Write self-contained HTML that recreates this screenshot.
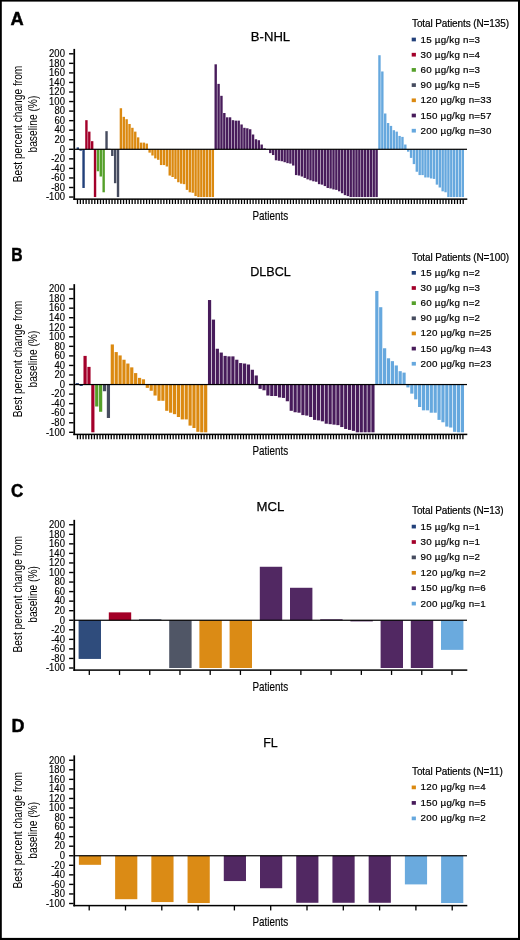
<!DOCTYPE html>
<html><head><meta charset="utf-8"><style>
html,body{margin:0;padding:0;background:#fff;overflow:hidden;width:520px;height:940px;}
svg{display:block;will-change:transform;}
text{font-family:"Liberation Sans", sans-serif;}
</style></head><body>
<svg width="520" height="940" viewBox="0 0 520 940">
<rect x="0" y="0" width="520" height="940" fill="#fff"/>
<text transform="translate(10.6 25.2) scale(1.0 1)" font-size="18.3" font-weight="bold" fill="#000" stroke="#000" stroke-width="0.45">A</text>
<text x="270.5" y="40.5" font-size="13.6" text-anchor="middle" fill="#000" stroke="#000" stroke-width="0.25" textLength="39.3" lengthAdjust="spacingAndGlyphs">B-NHL</text>
<text transform="translate(21.9 124) rotate(-90)" font-size="13.1" text-anchor="middle" fill="#000" textLength="116.6" lengthAdjust="spacingAndGlyphs">Best percent change from</text>
<text transform="translate(37.3 124.1) rotate(-90)" font-size="13.1" text-anchor="middle" fill="#000" textLength="56.8" lengthAdjust="spacingAndGlyphs">baseline (%)</text>
<text x="270.3" y="219.7" font-size="12.9" text-anchor="middle" fill="#000" stroke="#000" stroke-width="0.15" textLength="35.6" lengthAdjust="spacingAndGlyphs">Patients</text>
<rect x="76.6" y="147.39" width="2.4" height="1.91" fill="#22407a"/>
<rect x="79.47" y="149.3" width="2.4" height="1.43" fill="#22407a"/>
<rect x="82.35" y="149.3" width="2.4" height="38.68" fill="#22407a"/>
<rect x="85.22" y="120.17" width="2.4" height="29.13" fill="#a3002a"/>
<rect x="88.09" y="131.63" width="2.4" height="17.67" fill="#a3002a"/>
<rect x="90.97" y="141.18" width="2.4" height="8.12" fill="#a3002a"/>
<rect x="93.84" y="149.3" width="2.4" height="47.75" fill="#a3002a"/>
<rect x="96.71" y="149.3" width="2.4" height="21.96" fill="#55a02a"/>
<rect x="99.58" y="149.3" width="2.4" height="27.22" fill="#55a02a"/>
<rect x="102.46" y="149.3" width="2.4" height="42.98" fill="#55a02a"/>
<rect x="105.33" y="131.16" width="2.4" height="18.14" fill="#464c5f"/>
<rect x="108.2" y="148.82" width="2.4" height="0.48" fill="#464c5f"/>
<rect x="111.08" y="149.3" width="2.4" height="6.68" fill="#464c5f"/>
<rect x="113.95" y="149.3" width="2.4" height="33.9" fill="#464c5f"/>
<rect x="116.82" y="149.3" width="2.4" height="47.75" fill="#464c5f"/>
<rect x="119.69" y="108.24" width="2.4" height="41.06" fill="#db8910"/>
<rect x="122.57" y="116.83" width="2.4" height="32.47" fill="#db8910"/>
<rect x="125.44" y="119.22" width="2.4" height="30.08" fill="#db8910"/>
<rect x="128.31" y="123.99" width="2.4" height="25.31" fill="#db8910"/>
<rect x="131.19" y="127.81" width="2.4" height="21.49" fill="#db8910"/>
<rect x="134.06" y="131.63" width="2.4" height="17.67" fill="#db8910"/>
<rect x="136.93" y="137.36" width="2.4" height="11.94" fill="#db8910"/>
<rect x="139.81" y="142.62" width="2.4" height="6.68" fill="#db8910"/>
<rect x="142.68" y="142.62" width="2.4" height="6.68" fill="#db8910"/>
<rect x="145.55" y="143.57" width="2.4" height="5.73" fill="#db8910"/>
<rect x="148.43" y="149.3" width="2.4" height="3.34" fill="#db8910"/>
<rect x="151.3" y="149.3" width="2.4" height="6.21" fill="#db8910"/>
<rect x="154.17" y="149.3" width="2.4" height="9.07" fill="#db8910"/>
<rect x="157.04" y="149.3" width="2.4" height="10.5" fill="#db8910"/>
<rect x="159.92" y="149.3" width="2.4" height="15.76" fill="#db8910"/>
<rect x="162.79" y="149.3" width="2.4" height="15.76" fill="#db8910"/>
<rect x="165.66" y="149.3" width="2.4" height="17.19" fill="#db8910"/>
<rect x="168.54" y="149.3" width="2.4" height="26.26" fill="#db8910"/>
<rect x="171.41" y="149.3" width="2.4" height="27.7" fill="#db8910"/>
<rect x="174.28" y="149.3" width="2.4" height="29.61" fill="#db8910"/>
<rect x="177.16" y="149.3" width="2.4" height="32.95" fill="#db8910"/>
<rect x="180.03" y="149.3" width="2.4" height="34.38" fill="#db8910"/>
<rect x="182.9" y="149.3" width="2.4" height="34.86" fill="#db8910"/>
<rect x="185.77" y="149.3" width="2.4" height="40.59" fill="#db8910"/>
<rect x="188.65" y="149.3" width="2.4" height="42.98" fill="#db8910"/>
<rect x="191.52" y="149.3" width="2.4" height="43.45" fill="#db8910"/>
<rect x="194.39" y="149.3" width="2.4" height="46.79" fill="#db8910"/>
<rect x="197.27" y="149.3" width="2.4" height="47.75" fill="#db8910"/>
<rect x="200.14" y="149.3" width="2.4" height="47.75" fill="#db8910"/>
<rect x="203.01" y="149.3" width="2.4" height="47.75" fill="#db8910"/>
<rect x="205.88" y="149.3" width="2.4" height="47.75" fill="#db8910"/>
<rect x="208.76" y="149.3" width="2.4" height="47.75" fill="#db8910"/>
<rect x="211.63" y="149.3" width="2.4" height="47.75" fill="#db8910"/>
<rect x="214.5" y="64.31" width="2.4" height="84.99" fill="#481c5b"/>
<rect x="217.38" y="83.88" width="2.4" height="65.42" fill="#481c5b"/>
<rect x="220.25" y="95.82" width="2.4" height="53.48" fill="#481c5b"/>
<rect x="223.12" y="113.01" width="2.4" height="36.29" fill="#481c5b"/>
<rect x="226" y="117.31" width="2.4" height="31.99" fill="#481c5b"/>
<rect x="228.87" y="117.31" width="2.4" height="31.99" fill="#481c5b"/>
<rect x="231.74" y="120.17" width="2.4" height="29.13" fill="#481c5b"/>
<rect x="234.62" y="120.65" width="2.4" height="28.65" fill="#481c5b"/>
<rect x="237.49" y="120.65" width="2.4" height="28.65" fill="#481c5b"/>
<rect x="240.36" y="124.47" width="2.4" height="24.83" fill="#481c5b"/>
<rect x="243.23" y="127.81" width="2.4" height="21.49" fill="#481c5b"/>
<rect x="246.11" y="128.29" width="2.4" height="21.01" fill="#481c5b"/>
<rect x="248.98" y="129.25" width="2.4" height="20.05" fill="#481c5b"/>
<rect x="251.85" y="134.5" width="2.4" height="14.8" fill="#481c5b"/>
<rect x="254.73" y="139.27" width="2.4" height="10.03" fill="#481c5b"/>
<rect x="257.6" y="140.23" width="2.4" height="9.07" fill="#481c5b"/>
<rect x="260.47" y="144.53" width="2.4" height="4.77" fill="#481c5b"/>
<rect x="263.35" y="148.34" width="2.4" height="0.95" fill="#481c5b"/>
<rect x="266.22" y="149.06" width="2.4" height="0.24" fill="#481c5b"/>
<rect x="269.09" y="149.3" width="2.4" height="3.82" fill="#481c5b"/>
<rect x="271.96" y="149.3" width="2.4" height="5.73" fill="#481c5b"/>
<rect x="274.84" y="149.3" width="2.4" height="10.98" fill="#481c5b"/>
<rect x="277.71" y="149.3" width="2.4" height="11.46" fill="#481c5b"/>
<rect x="280.58" y="149.3" width="2.4" height="11.94" fill="#481c5b"/>
<rect x="283.46" y="149.3" width="2.4" height="12.89" fill="#481c5b"/>
<rect x="286.33" y="149.3" width="2.4" height="13.85" fill="#481c5b"/>
<rect x="289.2" y="149.3" width="2.4" height="14.32" fill="#481c5b"/>
<rect x="292.08" y="149.3" width="2.4" height="16.23" fill="#481c5b"/>
<rect x="294.95" y="149.3" width="2.4" height="25.79" fill="#481c5b"/>
<rect x="297.82" y="149.3" width="2.4" height="26.26" fill="#481c5b"/>
<rect x="300.69" y="149.3" width="2.4" height="27.22" fill="#481c5b"/>
<rect x="303.57" y="149.3" width="2.4" height="28.65" fill="#481c5b"/>
<rect x="306.44" y="149.3" width="2.4" height="30.08" fill="#481c5b"/>
<rect x="309.31" y="149.3" width="2.4" height="31.04" fill="#481c5b"/>
<rect x="312.19" y="149.3" width="2.4" height="31.99" fill="#481c5b"/>
<rect x="315.06" y="149.3" width="2.4" height="32.47" fill="#481c5b"/>
<rect x="317.93" y="149.3" width="2.4" height="34.86" fill="#481c5b"/>
<rect x="320.81" y="149.3" width="2.4" height="35.34" fill="#481c5b"/>
<rect x="323.68" y="149.3" width="2.4" height="36.77" fill="#481c5b"/>
<rect x="326.55" y="149.3" width="2.4" height="38.68" fill="#481c5b"/>
<rect x="329.42" y="149.3" width="2.4" height="39.16" fill="#481c5b"/>
<rect x="332.3" y="149.3" width="2.4" height="40.11" fill="#481c5b"/>
<rect x="335.17" y="149.3" width="2.4" height="40.59" fill="#481c5b"/>
<rect x="338.04" y="149.3" width="2.4" height="42.02" fill="#481c5b"/>
<rect x="340.92" y="149.3" width="2.4" height="43.93" fill="#481c5b"/>
<rect x="343.79" y="149.3" width="2.4" height="45.84" fill="#481c5b"/>
<rect x="346.66" y="149.3" width="2.4" height="46.79" fill="#481c5b"/>
<rect x="349.53" y="149.3" width="2.4" height="47.75" fill="#481c5b"/>
<rect x="352.41" y="149.3" width="2.4" height="47.75" fill="#481c5b"/>
<rect x="355.28" y="149.3" width="2.4" height="47.75" fill="#481c5b"/>
<rect x="358.15" y="149.3" width="2.4" height="47.75" fill="#481c5b"/>
<rect x="361.03" y="149.3" width="2.4" height="47.75" fill="#481c5b"/>
<rect x="363.9" y="149.3" width="2.4" height="47.75" fill="#481c5b"/>
<rect x="366.77" y="149.3" width="2.4" height="47.75" fill="#481c5b"/>
<rect x="369.65" y="149.3" width="2.4" height="47.75" fill="#481c5b"/>
<rect x="372.52" y="149.3" width="2.4" height="47.75" fill="#481c5b"/>
<rect x="375.39" y="149.3" width="2.4" height="47.75" fill="#481c5b"/>
<rect x="378.26" y="55.23" width="2.4" height="94.07" fill="#66a8de"/>
<rect x="381.14" y="71.47" width="2.4" height="77.83" fill="#66a8de"/>
<rect x="384.01" y="113.49" width="2.4" height="35.81" fill="#66a8de"/>
<rect x="386.88" y="123.04" width="2.4" height="26.26" fill="#66a8de"/>
<rect x="389.76" y="125.9" width="2.4" height="23.4" fill="#66a8de"/>
<rect x="392.63" y="130.2" width="2.4" height="19.1" fill="#66a8de"/>
<rect x="395.5" y="131.63" width="2.4" height="17.67" fill="#66a8de"/>
<rect x="398.38" y="135.93" width="2.4" height="13.37" fill="#66a8de"/>
<rect x="401.25" y="136.89" width="2.4" height="12.41" fill="#66a8de"/>
<rect x="404.12" y="144.53" width="2.4" height="4.77" fill="#66a8de"/>
<rect x="407" y="149.3" width="2.4" height="2.39" fill="#66a8de"/>
<rect x="409.87" y="149.3" width="2.4" height="8.59" fill="#66a8de"/>
<rect x="412.74" y="149.3" width="2.4" height="14.8" fill="#66a8de"/>
<rect x="415.61" y="149.3" width="2.4" height="22.44" fill="#66a8de"/>
<rect x="418.49" y="149.3" width="2.4" height="25.79" fill="#66a8de"/>
<rect x="421.36" y="149.3" width="2.4" height="25.79" fill="#66a8de"/>
<rect x="424.23" y="149.3" width="2.4" height="28.17" fill="#66a8de"/>
<rect x="427.11" y="149.3" width="2.4" height="28.17" fill="#66a8de"/>
<rect x="429.98" y="149.3" width="2.4" height="29.13" fill="#66a8de"/>
<rect x="432.85" y="149.3" width="2.4" height="29.61" fill="#66a8de"/>
<rect x="435.73" y="149.3" width="2.4" height="35.34" fill="#66a8de"/>
<rect x="438.6" y="149.3" width="2.4" height="38.2" fill="#66a8de"/>
<rect x="441.47" y="149.3" width="2.4" height="42.02" fill="#66a8de"/>
<rect x="444.34" y="149.3" width="2.4" height="42.98" fill="#66a8de"/>
<rect x="447.22" y="149.3" width="2.4" height="47.75" fill="#66a8de"/>
<rect x="450.09" y="149.3" width="2.4" height="47.75" fill="#66a8de"/>
<rect x="452.96" y="149.3" width="2.4" height="47.75" fill="#66a8de"/>
<rect x="455.84" y="149.3" width="2.4" height="47.75" fill="#66a8de"/>
<rect x="458.71" y="149.3" width="2.4" height="47.75" fill="#66a8de"/>
<rect x="461.58" y="149.3" width="2.4" height="47.75" fill="#66a8de"/>
<rect x="74.1" y="148.7" width="392.9" height="1.2" fill="#000"/>
<rect x="73.4" y="48.9" width="1.7" height="151" fill="#000"/>
<rect x="73.35" y="198.4" width="393.95" height="1.5" fill="#000"/>
<rect x="69.1" y="53.1" width="4.5" height="1.4" fill="#000"/>
<text transform="translate(64.9 57.05) scale(0.92 1)" font-size="10.3" text-anchor="end" fill="#000" stroke="#000" stroke-width="0.15">200</text>
<rect x="69.1" y="62.65" width="4.5" height="1.4" fill="#000"/>
<text transform="translate(64.9 66.6) scale(0.92 1)" font-size="10.3" text-anchor="end" fill="#000" stroke="#000" stroke-width="0.15">180</text>
<rect x="69.1" y="72.2" width="4.5" height="1.4" fill="#000"/>
<text transform="translate(64.9 76.15) scale(0.92 1)" font-size="10.3" text-anchor="end" fill="#000" stroke="#000" stroke-width="0.15">160</text>
<rect x="69.1" y="81.75" width="4.5" height="1.4" fill="#000"/>
<text transform="translate(64.9 85.7) scale(0.92 1)" font-size="10.3" text-anchor="end" fill="#000" stroke="#000" stroke-width="0.15">140</text>
<rect x="69.1" y="91.3" width="4.5" height="1.4" fill="#000"/>
<text transform="translate(64.9 95.25) scale(0.92 1)" font-size="10.3" text-anchor="end" fill="#000" stroke="#000" stroke-width="0.15">120</text>
<rect x="69.1" y="100.85" width="4.5" height="1.4" fill="#000"/>
<text transform="translate(64.9 104.8) scale(0.92 1)" font-size="10.3" text-anchor="end" fill="#000" stroke="#000" stroke-width="0.15">100</text>
<rect x="69.1" y="110.4" width="4.5" height="1.4" fill="#000"/>
<text transform="translate(64.9 114.35) scale(0.92 1)" font-size="10.3" text-anchor="end" fill="#000" stroke="#000" stroke-width="0.15">80</text>
<rect x="69.1" y="119.95" width="4.5" height="1.4" fill="#000"/>
<text transform="translate(64.9 123.9) scale(0.92 1)" font-size="10.3" text-anchor="end" fill="#000" stroke="#000" stroke-width="0.15">60</text>
<rect x="69.1" y="129.5" width="4.5" height="1.4" fill="#000"/>
<text transform="translate(64.9 133.45) scale(0.92 1)" font-size="10.3" text-anchor="end" fill="#000" stroke="#000" stroke-width="0.15">40</text>
<rect x="69.1" y="139.05" width="4.5" height="1.4" fill="#000"/>
<text transform="translate(64.9 143) scale(0.92 1)" font-size="10.3" text-anchor="end" fill="#000" stroke="#000" stroke-width="0.15">20</text>
<rect x="69.1" y="148.6" width="4.5" height="1.4" fill="#000"/>
<text transform="translate(64.9 152.55) scale(0.92 1)" font-size="10.3" text-anchor="end" fill="#000" stroke="#000" stroke-width="0.15">0</text>
<rect x="69.1" y="158.15" width="4.5" height="1.4" fill="#000"/>
<text transform="translate(64.9 162.1) scale(0.92 1)" font-size="10.3" text-anchor="end" fill="#000" stroke="#000" stroke-width="0.15">-20</text>
<rect x="69.1" y="167.7" width="4.5" height="1.4" fill="#000"/>
<text transform="translate(64.9 171.65) scale(0.92 1)" font-size="10.3" text-anchor="end" fill="#000" stroke="#000" stroke-width="0.15">-40</text>
<rect x="69.1" y="177.25" width="4.5" height="1.4" fill="#000"/>
<text transform="translate(64.9 181.2) scale(0.92 1)" font-size="10.3" text-anchor="end" fill="#000" stroke="#000" stroke-width="0.15">-60</text>
<rect x="69.1" y="186.8" width="4.5" height="1.4" fill="#000"/>
<text transform="translate(64.9 190.75) scale(0.92 1)" font-size="10.3" text-anchor="end" fill="#000" stroke="#000" stroke-width="0.15">-80</text>
<rect x="69.1" y="196.35" width="4.5" height="1.4" fill="#000"/>
<text transform="translate(64.9 200.3) scale(0.92 1)" font-size="10.3" text-anchor="end" fill="#000" stroke="#000" stroke-width="0.15">-100</text>
<rect x="76.85" y="199.4" width="1.3" height="4.6" fill="#000"/>
<rect x="79.73" y="199.4" width="1.3" height="4.6" fill="#000"/>
<rect x="82.61" y="199.4" width="1.3" height="4.6" fill="#000"/>
<rect x="85.49" y="199.4" width="1.3" height="4.6" fill="#000"/>
<rect x="88.36" y="199.4" width="1.3" height="4.6" fill="#000"/>
<rect x="91.24" y="199.4" width="1.3" height="4.6" fill="#000"/>
<rect x="94.12" y="199.4" width="1.3" height="4.6" fill="#000"/>
<rect x="97" y="199.4" width="1.3" height="4.6" fill="#000"/>
<rect x="99.88" y="199.4" width="1.3" height="4.6" fill="#000"/>
<rect x="102.76" y="199.4" width="1.3" height="4.6" fill="#000"/>
<rect x="105.63" y="199.4" width="1.3" height="4.6" fill="#000"/>
<rect x="108.51" y="199.4" width="1.3" height="4.6" fill="#000"/>
<rect x="111.39" y="199.4" width="1.3" height="4.6" fill="#000"/>
<rect x="114.27" y="199.4" width="1.3" height="4.6" fill="#000"/>
<rect x="117.15" y="199.4" width="1.3" height="4.6" fill="#000"/>
<rect x="120.03" y="199.4" width="1.3" height="4.6" fill="#000"/>
<rect x="122.9" y="199.4" width="1.3" height="4.6" fill="#000"/>
<rect x="125.78" y="199.4" width="1.3" height="4.6" fill="#000"/>
<rect x="128.66" y="199.4" width="1.3" height="4.6" fill="#000"/>
<rect x="131.54" y="199.4" width="1.3" height="4.6" fill="#000"/>
<rect x="134.42" y="199.4" width="1.3" height="4.6" fill="#000"/>
<rect x="137.3" y="199.4" width="1.3" height="4.6" fill="#000"/>
<rect x="140.17" y="199.4" width="1.3" height="4.6" fill="#000"/>
<rect x="143.05" y="199.4" width="1.3" height="4.6" fill="#000"/>
<rect x="145.93" y="199.4" width="1.3" height="4.6" fill="#000"/>
<rect x="148.81" y="199.4" width="1.3" height="4.6" fill="#000"/>
<rect x="151.69" y="199.4" width="1.3" height="4.6" fill="#000"/>
<rect x="154.57" y="199.4" width="1.3" height="4.6" fill="#000"/>
<rect x="157.44" y="199.4" width="1.3" height="4.6" fill="#000"/>
<rect x="160.32" y="199.4" width="1.3" height="4.6" fill="#000"/>
<rect x="163.2" y="199.4" width="1.3" height="4.6" fill="#000"/>
<rect x="166.08" y="199.4" width="1.3" height="4.6" fill="#000"/>
<rect x="168.96" y="199.4" width="1.3" height="4.6" fill="#000"/>
<rect x="171.84" y="199.4" width="1.3" height="4.6" fill="#000"/>
<rect x="174.71" y="199.4" width="1.3" height="4.6" fill="#000"/>
<rect x="177.59" y="199.4" width="1.3" height="4.6" fill="#000"/>
<rect x="180.47" y="199.4" width="1.3" height="4.6" fill="#000"/>
<rect x="183.35" y="199.4" width="1.3" height="4.6" fill="#000"/>
<rect x="186.23" y="199.4" width="1.3" height="4.6" fill="#000"/>
<rect x="189.11" y="199.4" width="1.3" height="4.6" fill="#000"/>
<rect x="191.98" y="199.4" width="1.3" height="4.6" fill="#000"/>
<rect x="194.86" y="199.4" width="1.3" height="4.6" fill="#000"/>
<rect x="197.74" y="199.4" width="1.3" height="4.6" fill="#000"/>
<rect x="200.62" y="199.4" width="1.3" height="4.6" fill="#000"/>
<rect x="203.5" y="199.4" width="1.3" height="4.6" fill="#000"/>
<rect x="206.38" y="199.4" width="1.3" height="4.6" fill="#000"/>
<rect x="209.25" y="199.4" width="1.3" height="4.6" fill="#000"/>
<rect x="212.13" y="199.4" width="1.3" height="4.6" fill="#000"/>
<rect x="215.01" y="199.4" width="1.3" height="4.6" fill="#000"/>
<rect x="217.89" y="199.4" width="1.3" height="4.6" fill="#000"/>
<rect x="220.77" y="199.4" width="1.3" height="4.6" fill="#000"/>
<rect x="223.65" y="199.4" width="1.3" height="4.6" fill="#000"/>
<rect x="226.52" y="199.4" width="1.3" height="4.6" fill="#000"/>
<rect x="229.4" y="199.4" width="1.3" height="4.6" fill="#000"/>
<rect x="232.28" y="199.4" width="1.3" height="4.6" fill="#000"/>
<rect x="235.16" y="199.4" width="1.3" height="4.6" fill="#000"/>
<rect x="238.04" y="199.4" width="1.3" height="4.6" fill="#000"/>
<rect x="240.92" y="199.4" width="1.3" height="4.6" fill="#000"/>
<rect x="243.79" y="199.4" width="1.3" height="4.6" fill="#000"/>
<rect x="246.67" y="199.4" width="1.3" height="4.6" fill="#000"/>
<rect x="249.55" y="199.4" width="1.3" height="4.6" fill="#000"/>
<rect x="252.43" y="199.4" width="1.3" height="4.6" fill="#000"/>
<rect x="255.31" y="199.4" width="1.3" height="4.6" fill="#000"/>
<rect x="258.19" y="199.4" width="1.3" height="4.6" fill="#000"/>
<rect x="261.06" y="199.4" width="1.3" height="4.6" fill="#000"/>
<rect x="263.94" y="199.4" width="1.3" height="4.6" fill="#000"/>
<rect x="266.82" y="199.4" width="1.3" height="4.6" fill="#000"/>
<rect x="269.7" y="199.4" width="1.3" height="4.6" fill="#000"/>
<rect x="272.58" y="199.4" width="1.3" height="4.6" fill="#000"/>
<rect x="275.46" y="199.4" width="1.3" height="4.6" fill="#000"/>
<rect x="278.34" y="199.4" width="1.3" height="4.6" fill="#000"/>
<rect x="281.21" y="199.4" width="1.3" height="4.6" fill="#000"/>
<rect x="284.09" y="199.4" width="1.3" height="4.6" fill="#000"/>
<rect x="286.97" y="199.4" width="1.3" height="4.6" fill="#000"/>
<rect x="289.85" y="199.4" width="1.3" height="4.6" fill="#000"/>
<rect x="292.73" y="199.4" width="1.3" height="4.6" fill="#000"/>
<rect x="295.61" y="199.4" width="1.3" height="4.6" fill="#000"/>
<rect x="298.48" y="199.4" width="1.3" height="4.6" fill="#000"/>
<rect x="301.36" y="199.4" width="1.3" height="4.6" fill="#000"/>
<rect x="304.24" y="199.4" width="1.3" height="4.6" fill="#000"/>
<rect x="307.12" y="199.4" width="1.3" height="4.6" fill="#000"/>
<rect x="310" y="199.4" width="1.3" height="4.6" fill="#000"/>
<rect x="312.88" y="199.4" width="1.3" height="4.6" fill="#000"/>
<rect x="315.75" y="199.4" width="1.3" height="4.6" fill="#000"/>
<rect x="318.63" y="199.4" width="1.3" height="4.6" fill="#000"/>
<rect x="321.51" y="199.4" width="1.3" height="4.6" fill="#000"/>
<rect x="324.39" y="199.4" width="1.3" height="4.6" fill="#000"/>
<rect x="327.27" y="199.4" width="1.3" height="4.6" fill="#000"/>
<rect x="330.15" y="199.4" width="1.3" height="4.6" fill="#000"/>
<rect x="333.02" y="199.4" width="1.3" height="4.6" fill="#000"/>
<rect x="335.9" y="199.4" width="1.3" height="4.6" fill="#000"/>
<rect x="338.78" y="199.4" width="1.3" height="4.6" fill="#000"/>
<rect x="341.66" y="199.4" width="1.3" height="4.6" fill="#000"/>
<rect x="344.54" y="199.4" width="1.3" height="4.6" fill="#000"/>
<rect x="347.42" y="199.4" width="1.3" height="4.6" fill="#000"/>
<rect x="350.29" y="199.4" width="1.3" height="4.6" fill="#000"/>
<rect x="353.17" y="199.4" width="1.3" height="4.6" fill="#000"/>
<rect x="356.05" y="199.4" width="1.3" height="4.6" fill="#000"/>
<rect x="358.93" y="199.4" width="1.3" height="4.6" fill="#000"/>
<rect x="361.81" y="199.4" width="1.3" height="4.6" fill="#000"/>
<rect x="364.69" y="199.4" width="1.3" height="4.6" fill="#000"/>
<rect x="367.56" y="199.4" width="1.3" height="4.6" fill="#000"/>
<rect x="370.44" y="199.4" width="1.3" height="4.6" fill="#000"/>
<rect x="373.32" y="199.4" width="1.3" height="4.6" fill="#000"/>
<rect x="376.2" y="199.4" width="1.3" height="4.6" fill="#000"/>
<rect x="379.08" y="199.4" width="1.3" height="4.6" fill="#000"/>
<rect x="381.96" y="199.4" width="1.3" height="4.6" fill="#000"/>
<rect x="384.83" y="199.4" width="1.3" height="4.6" fill="#000"/>
<rect x="387.71" y="199.4" width="1.3" height="4.6" fill="#000"/>
<rect x="390.59" y="199.4" width="1.3" height="4.6" fill="#000"/>
<rect x="393.47" y="199.4" width="1.3" height="4.6" fill="#000"/>
<rect x="396.35" y="199.4" width="1.3" height="4.6" fill="#000"/>
<rect x="399.23" y="199.4" width="1.3" height="4.6" fill="#000"/>
<rect x="402.1" y="199.4" width="1.3" height="4.6" fill="#000"/>
<rect x="404.98" y="199.4" width="1.3" height="4.6" fill="#000"/>
<rect x="407.86" y="199.4" width="1.3" height="4.6" fill="#000"/>
<rect x="410.74" y="199.4" width="1.3" height="4.6" fill="#000"/>
<rect x="413.62" y="199.4" width="1.3" height="4.6" fill="#000"/>
<rect x="416.5" y="199.4" width="1.3" height="4.6" fill="#000"/>
<rect x="419.37" y="199.4" width="1.3" height="4.6" fill="#000"/>
<rect x="422.25" y="199.4" width="1.3" height="4.6" fill="#000"/>
<rect x="425.13" y="199.4" width="1.3" height="4.6" fill="#000"/>
<rect x="428.01" y="199.4" width="1.3" height="4.6" fill="#000"/>
<rect x="430.89" y="199.4" width="1.3" height="4.6" fill="#000"/>
<rect x="433.77" y="199.4" width="1.3" height="4.6" fill="#000"/>
<rect x="436.64" y="199.4" width="1.3" height="4.6" fill="#000"/>
<rect x="439.52" y="199.4" width="1.3" height="4.6" fill="#000"/>
<rect x="442.4" y="199.4" width="1.3" height="4.6" fill="#000"/>
<rect x="445.28" y="199.4" width="1.3" height="4.6" fill="#000"/>
<rect x="448.16" y="199.4" width="1.3" height="4.6" fill="#000"/>
<rect x="451.04" y="199.4" width="1.3" height="4.6" fill="#000"/>
<rect x="453.91" y="199.4" width="1.3" height="4.6" fill="#000"/>
<rect x="456.79" y="199.4" width="1.3" height="4.6" fill="#000"/>
<rect x="459.67" y="199.4" width="1.3" height="4.6" fill="#000"/>
<rect x="462.55" y="199.4" width="1.3" height="4.6" fill="#000"/>
<text x="412" y="27.35" font-size="10" fill="#000" stroke="#000" stroke-width="0.2" textLength="97.03" lengthAdjust="spacing">Total Patients (N=135)</text>
<rect x="411.7" y="37.65" width="4.2" height="3.7" fill="#22407a"/>
<text x="420.6" y="42.5" font-size="9.8" fill="#000" stroke="#000" stroke-width="0.2" textLength="59.47" lengthAdjust="spacing">15 µg/kg n=3</text>
<rect x="411.7" y="52.85" width="4.2" height="3.7" fill="#a3002a"/>
<text x="420.6" y="57.7" font-size="9.8" fill="#000" stroke="#000" stroke-width="0.2" textLength="59.47" lengthAdjust="spacing">30 µg/kg n=4</text>
<rect x="411.7" y="68.05" width="4.2" height="3.7" fill="#55a02a"/>
<text x="420.6" y="72.9" font-size="9.8" fill="#000" stroke="#000" stroke-width="0.2" textLength="59.47" lengthAdjust="spacing">60 µg/kg n=3</text>
<rect x="411.7" y="83.25" width="4.2" height="3.7" fill="#464c5f"/>
<text x="420.6" y="88.1" font-size="9.8" fill="#000" stroke="#000" stroke-width="0.2" textLength="59.47" lengthAdjust="spacing">90 µg/kg n=5</text>
<rect x="411.7" y="98.45" width="4.2" height="3.7" fill="#db8910"/>
<text x="420.6" y="103.3" font-size="9.8" fill="#000" stroke="#000" stroke-width="0.2" textLength="70.81" lengthAdjust="spacing">120 µg/kg n=33</text>
<rect x="411.7" y="113.65" width="4.2" height="3.7" fill="#481c5b"/>
<text x="420.6" y="118.5" font-size="9.8" fill="#000" stroke="#000" stroke-width="0.2" textLength="70.81" lengthAdjust="spacing">150 µg/kg n=57</text>
<rect x="411.7" y="128.85" width="4.2" height="3.7" fill="#66a8de"/>
<text x="420.6" y="133.7" font-size="9.8" fill="#000" stroke="#000" stroke-width="0.2" textLength="70.81" lengthAdjust="spacing">200 µg/kg n=30</text>
<text transform="translate(11.2 260.7) scale(0.86 1)" font-size="18.3" font-weight="bold" fill="#000" stroke="#000" stroke-width="0.45">B</text>
<text x="270.5" y="275.75" font-size="13.6" text-anchor="middle" fill="#000" stroke="#000" stroke-width="0.25" textLength="40.6" lengthAdjust="spacingAndGlyphs">DLBCL</text>
<text transform="translate(21.9 359) rotate(-90)" font-size="13.1" text-anchor="middle" fill="#000" textLength="116.6" lengthAdjust="spacingAndGlyphs">Best percent change from</text>
<text transform="translate(37.3 359.1) rotate(-90)" font-size="13.1" text-anchor="middle" fill="#000" textLength="56.8" lengthAdjust="spacingAndGlyphs">baseline (%)</text>
<text x="270.3" y="454.95" font-size="12.9" text-anchor="middle" fill="#000" stroke="#000" stroke-width="0.15" textLength="35.6" lengthAdjust="spacingAndGlyphs">Patients</text>
<rect x="75.7" y="383.12" width="3.2" height="1.43" fill="#22407a"/>
<rect x="79.59" y="384.55" width="3.2" height="1.43" fill="#22407a"/>
<rect x="83.48" y="355.9" width="3.2" height="28.65" fill="#a3002a"/>
<rect x="87.37" y="366.88" width="3.2" height="17.67" fill="#a3002a"/>
<rect x="91.26" y="384.55" width="3.2" height="47.75" fill="#a3002a"/>
<rect x="95.15" y="384.55" width="3.2" height="21.96" fill="#55a02a"/>
<rect x="99.04" y="384.55" width="3.2" height="27.22" fill="#55a02a"/>
<rect x="102.93" y="384.55" width="3.2" height="6.68" fill="#464c5f"/>
<rect x="106.82" y="384.55" width="3.2" height="33.42" fill="#464c5f"/>
<rect x="110.71" y="344.44" width="3.2" height="40.11" fill="#db8910"/>
<rect x="114.6" y="352.08" width="3.2" height="32.47" fill="#db8910"/>
<rect x="118.49" y="355.42" width="3.2" height="29.13" fill="#db8910"/>
<rect x="122.38" y="359.72" width="3.2" height="24.83" fill="#db8910"/>
<rect x="126.27" y="363.54" width="3.2" height="21.01" fill="#db8910"/>
<rect x="130.16" y="367.36" width="3.2" height="17.19" fill="#db8910"/>
<rect x="134.05" y="373.09" width="3.2" height="11.46" fill="#db8910"/>
<rect x="137.94" y="377.87" width="3.2" height="6.68" fill="#db8910"/>
<rect x="141.83" y="379.3" width="3.2" height="5.25" fill="#db8910"/>
<rect x="145.72" y="384.55" width="3.2" height="3.34" fill="#db8910"/>
<rect x="149.61" y="384.55" width="3.2" height="6.21" fill="#db8910"/>
<rect x="153.5" y="384.55" width="3.2" height="10.98" fill="#db8910"/>
<rect x="157.39" y="384.55" width="3.2" height="16.23" fill="#db8910"/>
<rect x="161.28" y="384.55" width="3.2" height="16.23" fill="#db8910"/>
<rect x="165.17" y="384.55" width="3.2" height="26.26" fill="#db8910"/>
<rect x="169.06" y="384.55" width="3.2" height="28.17" fill="#db8910"/>
<rect x="172.95" y="384.55" width="3.2" height="29.61" fill="#db8910"/>
<rect x="176.84" y="384.55" width="3.2" height="32.47" fill="#db8910"/>
<rect x="180.73" y="384.55" width="3.2" height="34.86" fill="#db8910"/>
<rect x="184.62" y="384.55" width="3.2" height="34.86" fill="#db8910"/>
<rect x="188.51" y="384.55" width="3.2" height="41.06" fill="#db8910"/>
<rect x="192.4" y="384.55" width="3.2" height="43.45" fill="#db8910"/>
<rect x="196.29" y="384.55" width="3.2" height="47.27" fill="#db8910"/>
<rect x="200.18" y="384.55" width="3.2" height="47.75" fill="#db8910"/>
<rect x="204.07" y="384.55" width="3.2" height="47.75" fill="#db8910"/>
<rect x="207.96" y="300.03" width="3.2" height="84.52" fill="#481c5b"/>
<rect x="211.85" y="319.61" width="3.2" height="64.94" fill="#481c5b"/>
<rect x="215.74" y="348.74" width="3.2" height="35.81" fill="#481c5b"/>
<rect x="219.63" y="352.56" width="3.2" height="31.99" fill="#481c5b"/>
<rect x="223.52" y="355.9" width="3.2" height="28.65" fill="#481c5b"/>
<rect x="227.41" y="356.38" width="3.2" height="28.17" fill="#481c5b"/>
<rect x="231.3" y="356.38" width="3.2" height="28.17" fill="#481c5b"/>
<rect x="235.19" y="359.72" width="3.2" height="24.83" fill="#481c5b"/>
<rect x="239.08" y="363.06" width="3.2" height="21.49" fill="#481c5b"/>
<rect x="242.97" y="363.54" width="3.2" height="21.01" fill="#481c5b"/>
<rect x="246.86" y="364.5" width="3.2" height="20.05" fill="#481c5b"/>
<rect x="250.75" y="369.75" width="3.2" height="14.8" fill="#481c5b"/>
<rect x="254.64" y="375.48" width="3.2" height="9.07" fill="#481c5b"/>
<rect x="258.53" y="384.55" width="3.2" height="4.3" fill="#481c5b"/>
<rect x="262.42" y="384.55" width="3.2" height="5.73" fill="#481c5b"/>
<rect x="266.31" y="384.55" width="3.2" height="10.98" fill="#481c5b"/>
<rect x="270.2" y="384.55" width="3.2" height="11.46" fill="#481c5b"/>
<rect x="274.09" y="384.55" width="3.2" height="11.46" fill="#481c5b"/>
<rect x="277.98" y="384.55" width="3.2" height="12.89" fill="#481c5b"/>
<rect x="281.87" y="384.55" width="3.2" height="13.37" fill="#481c5b"/>
<rect x="285.76" y="384.55" width="3.2" height="16.71" fill="#481c5b"/>
<rect x="289.65" y="384.55" width="3.2" height="26.26" fill="#481c5b"/>
<rect x="293.54" y="384.55" width="3.2" height="27.7" fill="#481c5b"/>
<rect x="297.43" y="384.55" width="3.2" height="28.17" fill="#481c5b"/>
<rect x="301.32" y="384.55" width="3.2" height="30.56" fill="#481c5b"/>
<rect x="305.21" y="384.55" width="3.2" height="31.04" fill="#481c5b"/>
<rect x="309.1" y="384.55" width="3.2" height="32.47" fill="#481c5b"/>
<rect x="312.99" y="384.55" width="3.2" height="35.34" fill="#481c5b"/>
<rect x="316.88" y="384.55" width="3.2" height="35.81" fill="#481c5b"/>
<rect x="320.77" y="384.55" width="3.2" height="36.77" fill="#481c5b"/>
<rect x="324.66" y="384.55" width="3.2" height="39.16" fill="#481c5b"/>
<rect x="328.55" y="384.55" width="3.2" height="39.63" fill="#481c5b"/>
<rect x="332.44" y="384.55" width="3.2" height="40.11" fill="#481c5b"/>
<rect x="336.33" y="384.55" width="3.2" height="40.59" fill="#481c5b"/>
<rect x="340.22" y="384.55" width="3.2" height="42.5" fill="#481c5b"/>
<rect x="344.11" y="384.55" width="3.2" height="44.41" fill="#481c5b"/>
<rect x="348" y="384.55" width="3.2" height="45.36" fill="#481c5b"/>
<rect x="351.89" y="384.55" width="3.2" height="46.32" fill="#481c5b"/>
<rect x="355.78" y="384.55" width="3.2" height="47.75" fill="#481c5b"/>
<rect x="359.67" y="384.55" width="3.2" height="47.75" fill="#481c5b"/>
<rect x="363.56" y="384.55" width="3.2" height="47.75" fill="#481c5b"/>
<rect x="367.45" y="384.55" width="3.2" height="47.75" fill="#481c5b"/>
<rect x="371.34" y="384.55" width="3.2" height="47.75" fill="#481c5b"/>
<rect x="375.23" y="290.96" width="3.2" height="93.59" fill="#66a8de"/>
<rect x="379.12" y="307.2" width="3.2" height="77.35" fill="#66a8de"/>
<rect x="383.01" y="348.26" width="3.2" height="36.29" fill="#66a8de"/>
<rect x="386.9" y="358.29" width="3.2" height="26.26" fill="#66a8de"/>
<rect x="390.79" y="361.15" width="3.2" height="23.4" fill="#66a8de"/>
<rect x="394.68" y="365.45" width="3.2" height="19.1" fill="#66a8de"/>
<rect x="398.57" y="371.18" width="3.2" height="13.37" fill="#66a8de"/>
<rect x="402.46" y="372.61" width="3.2" height="11.94" fill="#66a8de"/>
<rect x="406.35" y="384.55" width="3.2" height="2.86" fill="#66a8de"/>
<rect x="410.24" y="384.55" width="3.2" height="9.07" fill="#66a8de"/>
<rect x="414.13" y="384.55" width="3.2" height="14.8" fill="#66a8de"/>
<rect x="418.02" y="384.55" width="3.2" height="22.44" fill="#66a8de"/>
<rect x="421.91" y="384.55" width="3.2" height="25.79" fill="#66a8de"/>
<rect x="425.8" y="384.55" width="3.2" height="25.79" fill="#66a8de"/>
<rect x="429.69" y="384.55" width="3.2" height="28.17" fill="#66a8de"/>
<rect x="433.58" y="384.55" width="3.2" height="28.17" fill="#66a8de"/>
<rect x="437.47" y="384.55" width="3.2" height="35.34" fill="#66a8de"/>
<rect x="441.36" y="384.55" width="3.2" height="37.72" fill="#66a8de"/>
<rect x="445.25" y="384.55" width="3.2" height="42.02" fill="#66a8de"/>
<rect x="449.14" y="384.55" width="3.2" height="42.98" fill="#66a8de"/>
<rect x="453.03" y="384.55" width="3.2" height="47.27" fill="#66a8de"/>
<rect x="456.92" y="384.55" width="3.2" height="47.75" fill="#66a8de"/>
<rect x="460.81" y="384.55" width="3.2" height="47.75" fill="#66a8de"/>
<rect x="74.1" y="383.95" width="392.9" height="1.2" fill="#000"/>
<rect x="73.4" y="284.15" width="1.7" height="151" fill="#000"/>
<rect x="73.35" y="433.65" width="393.95" height="1.5" fill="#000"/>
<rect x="69.1" y="288.35" width="4.5" height="1.4" fill="#000"/>
<text transform="translate(64.9 292.3) scale(0.92 1)" font-size="10.3" text-anchor="end" fill="#000" stroke="#000" stroke-width="0.15">200</text>
<rect x="69.1" y="297.9" width="4.5" height="1.4" fill="#000"/>
<text transform="translate(64.9 301.85) scale(0.92 1)" font-size="10.3" text-anchor="end" fill="#000" stroke="#000" stroke-width="0.15">180</text>
<rect x="69.1" y="307.45" width="4.5" height="1.4" fill="#000"/>
<text transform="translate(64.9 311.4) scale(0.92 1)" font-size="10.3" text-anchor="end" fill="#000" stroke="#000" stroke-width="0.15">160</text>
<rect x="69.1" y="317" width="4.5" height="1.4" fill="#000"/>
<text transform="translate(64.9 320.95) scale(0.92 1)" font-size="10.3" text-anchor="end" fill="#000" stroke="#000" stroke-width="0.15">140</text>
<rect x="69.1" y="326.55" width="4.5" height="1.4" fill="#000"/>
<text transform="translate(64.9 330.5) scale(0.92 1)" font-size="10.3" text-anchor="end" fill="#000" stroke="#000" stroke-width="0.15">120</text>
<rect x="69.1" y="336.1" width="4.5" height="1.4" fill="#000"/>
<text transform="translate(64.9 340.05) scale(0.92 1)" font-size="10.3" text-anchor="end" fill="#000" stroke="#000" stroke-width="0.15">100</text>
<rect x="69.1" y="345.65" width="4.5" height="1.4" fill="#000"/>
<text transform="translate(64.9 349.6) scale(0.92 1)" font-size="10.3" text-anchor="end" fill="#000" stroke="#000" stroke-width="0.15">80</text>
<rect x="69.1" y="355.2" width="4.5" height="1.4" fill="#000"/>
<text transform="translate(64.9 359.15) scale(0.92 1)" font-size="10.3" text-anchor="end" fill="#000" stroke="#000" stroke-width="0.15">60</text>
<rect x="69.1" y="364.75" width="4.5" height="1.4" fill="#000"/>
<text transform="translate(64.9 368.7) scale(0.92 1)" font-size="10.3" text-anchor="end" fill="#000" stroke="#000" stroke-width="0.15">40</text>
<rect x="69.1" y="374.3" width="4.5" height="1.4" fill="#000"/>
<text transform="translate(64.9 378.25) scale(0.92 1)" font-size="10.3" text-anchor="end" fill="#000" stroke="#000" stroke-width="0.15">20</text>
<rect x="69.1" y="383.85" width="4.5" height="1.4" fill="#000"/>
<text transform="translate(64.9 387.8) scale(0.92 1)" font-size="10.3" text-anchor="end" fill="#000" stroke="#000" stroke-width="0.15">0</text>
<rect x="69.1" y="393.4" width="4.5" height="1.4" fill="#000"/>
<text transform="translate(64.9 397.35) scale(0.92 1)" font-size="10.3" text-anchor="end" fill="#000" stroke="#000" stroke-width="0.15">-20</text>
<rect x="69.1" y="402.95" width="4.5" height="1.4" fill="#000"/>
<text transform="translate(64.9 406.9) scale(0.92 1)" font-size="10.3" text-anchor="end" fill="#000" stroke="#000" stroke-width="0.15">-40</text>
<rect x="69.1" y="412.5" width="4.5" height="1.4" fill="#000"/>
<text transform="translate(64.9 416.45) scale(0.92 1)" font-size="10.3" text-anchor="end" fill="#000" stroke="#000" stroke-width="0.15">-60</text>
<rect x="69.1" y="422.05" width="4.5" height="1.4" fill="#000"/>
<text transform="translate(64.9 426) scale(0.92 1)" font-size="10.3" text-anchor="end" fill="#000" stroke="#000" stroke-width="0.15">-80</text>
<rect x="69.1" y="431.6" width="4.5" height="1.4" fill="#000"/>
<text transform="translate(64.9 435.55) scale(0.92 1)" font-size="10.3" text-anchor="end" fill="#000" stroke="#000" stroke-width="0.15">-100</text>
<rect x="76.85" y="434.65" width="1.3" height="4.6" fill="#000"/>
<rect x="79.66" y="434.65" width="1.3" height="4.6" fill="#000"/>
<rect x="82.48" y="434.65" width="1.3" height="4.6" fill="#000"/>
<rect x="85.29" y="434.65" width="1.3" height="4.6" fill="#000"/>
<rect x="88.1" y="434.65" width="1.3" height="4.6" fill="#000"/>
<rect x="90.92" y="434.65" width="1.3" height="4.6" fill="#000"/>
<rect x="93.73" y="434.65" width="1.3" height="4.6" fill="#000"/>
<rect x="96.54" y="434.65" width="1.3" height="4.6" fill="#000"/>
<rect x="99.36" y="434.65" width="1.3" height="4.6" fill="#000"/>
<rect x="102.17" y="434.65" width="1.3" height="4.6" fill="#000"/>
<rect x="104.98" y="434.65" width="1.3" height="4.6" fill="#000"/>
<rect x="107.79" y="434.65" width="1.3" height="4.6" fill="#000"/>
<rect x="110.61" y="434.65" width="1.3" height="4.6" fill="#000"/>
<rect x="113.42" y="434.65" width="1.3" height="4.6" fill="#000"/>
<rect x="116.23" y="434.65" width="1.3" height="4.6" fill="#000"/>
<rect x="119.05" y="434.65" width="1.3" height="4.6" fill="#000"/>
<rect x="121.86" y="434.65" width="1.3" height="4.6" fill="#000"/>
<rect x="124.67" y="434.65" width="1.3" height="4.6" fill="#000"/>
<rect x="127.49" y="434.65" width="1.3" height="4.6" fill="#000"/>
<rect x="130.3" y="434.65" width="1.3" height="4.6" fill="#000"/>
<rect x="133.11" y="434.65" width="1.3" height="4.6" fill="#000"/>
<rect x="135.93" y="434.65" width="1.3" height="4.6" fill="#000"/>
<rect x="138.74" y="434.65" width="1.3" height="4.6" fill="#000"/>
<rect x="141.55" y="434.65" width="1.3" height="4.6" fill="#000"/>
<rect x="144.37" y="434.65" width="1.3" height="4.6" fill="#000"/>
<rect x="147.18" y="434.65" width="1.3" height="4.6" fill="#000"/>
<rect x="149.99" y="434.65" width="1.3" height="4.6" fill="#000"/>
<rect x="152.8" y="434.65" width="1.3" height="4.6" fill="#000"/>
<rect x="155.62" y="434.65" width="1.3" height="4.6" fill="#000"/>
<rect x="158.43" y="434.65" width="1.3" height="4.6" fill="#000"/>
<rect x="161.24" y="434.65" width="1.3" height="4.6" fill="#000"/>
<rect x="164.06" y="434.65" width="1.3" height="4.6" fill="#000"/>
<rect x="166.87" y="434.65" width="1.3" height="4.6" fill="#000"/>
<rect x="169.68" y="434.65" width="1.3" height="4.6" fill="#000"/>
<rect x="172.5" y="434.65" width="1.3" height="4.6" fill="#000"/>
<rect x="175.31" y="434.65" width="1.3" height="4.6" fill="#000"/>
<rect x="178.12" y="434.65" width="1.3" height="4.6" fill="#000"/>
<rect x="180.94" y="434.65" width="1.3" height="4.6" fill="#000"/>
<rect x="183.75" y="434.65" width="1.3" height="4.6" fill="#000"/>
<rect x="186.56" y="434.65" width="1.3" height="4.6" fill="#000"/>
<rect x="189.38" y="434.65" width="1.3" height="4.6" fill="#000"/>
<rect x="192.19" y="434.65" width="1.3" height="4.6" fill="#000"/>
<rect x="195" y="434.65" width="1.3" height="4.6" fill="#000"/>
<rect x="197.81" y="434.65" width="1.3" height="4.6" fill="#000"/>
<rect x="200.63" y="434.65" width="1.3" height="4.6" fill="#000"/>
<rect x="203.44" y="434.65" width="1.3" height="4.6" fill="#000"/>
<rect x="206.25" y="434.65" width="1.3" height="4.6" fill="#000"/>
<rect x="209.07" y="434.65" width="1.3" height="4.6" fill="#000"/>
<rect x="211.88" y="434.65" width="1.3" height="4.6" fill="#000"/>
<rect x="214.69" y="434.65" width="1.3" height="4.6" fill="#000"/>
<rect x="217.51" y="434.65" width="1.3" height="4.6" fill="#000"/>
<rect x="220.32" y="434.65" width="1.3" height="4.6" fill="#000"/>
<rect x="223.13" y="434.65" width="1.3" height="4.6" fill="#000"/>
<rect x="225.95" y="434.65" width="1.3" height="4.6" fill="#000"/>
<rect x="228.76" y="434.65" width="1.3" height="4.6" fill="#000"/>
<rect x="231.57" y="434.65" width="1.3" height="4.6" fill="#000"/>
<rect x="234.39" y="434.65" width="1.3" height="4.6" fill="#000"/>
<rect x="237.2" y="434.65" width="1.3" height="4.6" fill="#000"/>
<rect x="240.01" y="434.65" width="1.3" height="4.6" fill="#000"/>
<rect x="242.83" y="434.65" width="1.3" height="4.6" fill="#000"/>
<rect x="245.64" y="434.65" width="1.3" height="4.6" fill="#000"/>
<rect x="248.45" y="434.65" width="1.3" height="4.6" fill="#000"/>
<rect x="251.26" y="434.65" width="1.3" height="4.6" fill="#000"/>
<rect x="254.08" y="434.65" width="1.3" height="4.6" fill="#000"/>
<rect x="256.89" y="434.65" width="1.3" height="4.6" fill="#000"/>
<rect x="259.7" y="434.65" width="1.3" height="4.6" fill="#000"/>
<rect x="262.52" y="434.65" width="1.3" height="4.6" fill="#000"/>
<rect x="265.33" y="434.65" width="1.3" height="4.6" fill="#000"/>
<rect x="268.14" y="434.65" width="1.3" height="4.6" fill="#000"/>
<rect x="270.96" y="434.65" width="1.3" height="4.6" fill="#000"/>
<rect x="273.77" y="434.65" width="1.3" height="4.6" fill="#000"/>
<rect x="276.58" y="434.65" width="1.3" height="4.6" fill="#000"/>
<rect x="279.4" y="434.65" width="1.3" height="4.6" fill="#000"/>
<rect x="282.21" y="434.65" width="1.3" height="4.6" fill="#000"/>
<rect x="285.02" y="434.65" width="1.3" height="4.6" fill="#000"/>
<rect x="287.84" y="434.65" width="1.3" height="4.6" fill="#000"/>
<rect x="290.65" y="434.65" width="1.3" height="4.6" fill="#000"/>
<rect x="293.46" y="434.65" width="1.3" height="4.6" fill="#000"/>
<rect x="296.27" y="434.65" width="1.3" height="4.6" fill="#000"/>
<rect x="299.09" y="434.65" width="1.3" height="4.6" fill="#000"/>
<rect x="301.9" y="434.65" width="1.3" height="4.6" fill="#000"/>
<rect x="304.71" y="434.65" width="1.3" height="4.6" fill="#000"/>
<rect x="307.53" y="434.65" width="1.3" height="4.6" fill="#000"/>
<rect x="310.34" y="434.65" width="1.3" height="4.6" fill="#000"/>
<rect x="313.15" y="434.65" width="1.3" height="4.6" fill="#000"/>
<rect x="315.97" y="434.65" width="1.3" height="4.6" fill="#000"/>
<rect x="318.78" y="434.65" width="1.3" height="4.6" fill="#000"/>
<rect x="321.59" y="434.65" width="1.3" height="4.6" fill="#000"/>
<rect x="324.41" y="434.65" width="1.3" height="4.6" fill="#000"/>
<rect x="327.22" y="434.65" width="1.3" height="4.6" fill="#000"/>
<rect x="330.03" y="434.65" width="1.3" height="4.6" fill="#000"/>
<rect x="332.85" y="434.65" width="1.3" height="4.6" fill="#000"/>
<rect x="335.66" y="434.65" width="1.3" height="4.6" fill="#000"/>
<rect x="338.47" y="434.65" width="1.3" height="4.6" fill="#000"/>
<rect x="341.29" y="434.65" width="1.3" height="4.6" fill="#000"/>
<rect x="344.1" y="434.65" width="1.3" height="4.6" fill="#000"/>
<rect x="346.91" y="434.65" width="1.3" height="4.6" fill="#000"/>
<rect x="349.72" y="434.65" width="1.3" height="4.6" fill="#000"/>
<rect x="352.54" y="434.65" width="1.3" height="4.6" fill="#000"/>
<rect x="355.35" y="434.65" width="1.3" height="4.6" fill="#000"/>
<rect x="358.16" y="434.65" width="1.3" height="4.6" fill="#000"/>
<rect x="360.98" y="434.65" width="1.3" height="4.6" fill="#000"/>
<rect x="363.79" y="434.65" width="1.3" height="4.6" fill="#000"/>
<rect x="366.6" y="434.65" width="1.3" height="4.6" fill="#000"/>
<rect x="369.42" y="434.65" width="1.3" height="4.6" fill="#000"/>
<rect x="372.23" y="434.65" width="1.3" height="4.6" fill="#000"/>
<rect x="375.04" y="434.65" width="1.3" height="4.6" fill="#000"/>
<rect x="377.86" y="434.65" width="1.3" height="4.6" fill="#000"/>
<rect x="380.67" y="434.65" width="1.3" height="4.6" fill="#000"/>
<rect x="383.48" y="434.65" width="1.3" height="4.6" fill="#000"/>
<rect x="386.3" y="434.65" width="1.3" height="4.6" fill="#000"/>
<rect x="389.11" y="434.65" width="1.3" height="4.6" fill="#000"/>
<rect x="391.92" y="434.65" width="1.3" height="4.6" fill="#000"/>
<rect x="394.73" y="434.65" width="1.3" height="4.6" fill="#000"/>
<rect x="397.55" y="434.65" width="1.3" height="4.6" fill="#000"/>
<rect x="400.36" y="434.65" width="1.3" height="4.6" fill="#000"/>
<rect x="403.17" y="434.65" width="1.3" height="4.6" fill="#000"/>
<rect x="405.99" y="434.65" width="1.3" height="4.6" fill="#000"/>
<rect x="408.8" y="434.65" width="1.3" height="4.6" fill="#000"/>
<rect x="411.61" y="434.65" width="1.3" height="4.6" fill="#000"/>
<rect x="414.43" y="434.65" width="1.3" height="4.6" fill="#000"/>
<rect x="417.24" y="434.65" width="1.3" height="4.6" fill="#000"/>
<rect x="420.05" y="434.65" width="1.3" height="4.6" fill="#000"/>
<rect x="422.87" y="434.65" width="1.3" height="4.6" fill="#000"/>
<rect x="425.68" y="434.65" width="1.3" height="4.6" fill="#000"/>
<rect x="428.49" y="434.65" width="1.3" height="4.6" fill="#000"/>
<rect x="431.31" y="434.65" width="1.3" height="4.6" fill="#000"/>
<rect x="434.12" y="434.65" width="1.3" height="4.6" fill="#000"/>
<rect x="436.93" y="434.65" width="1.3" height="4.6" fill="#000"/>
<rect x="439.74" y="434.65" width="1.3" height="4.6" fill="#000"/>
<rect x="442.56" y="434.65" width="1.3" height="4.6" fill="#000"/>
<rect x="445.37" y="434.65" width="1.3" height="4.6" fill="#000"/>
<rect x="448.18" y="434.65" width="1.3" height="4.6" fill="#000"/>
<rect x="451" y="434.65" width="1.3" height="4.6" fill="#000"/>
<rect x="453.81" y="434.65" width="1.3" height="4.6" fill="#000"/>
<rect x="456.62" y="434.65" width="1.3" height="4.6" fill="#000"/>
<rect x="459.44" y="434.65" width="1.3" height="4.6" fill="#000"/>
<rect x="462.25" y="434.65" width="1.3" height="4.6" fill="#000"/>
<text x="412" y="260.75" font-size="10" fill="#000" stroke="#000" stroke-width="0.2" textLength="97.03" lengthAdjust="spacing">Total Patients (N=100)</text>
<rect x="411.7" y="271" width="4.2" height="3.7" fill="#22407a"/>
<text x="420.6" y="275.85" font-size="9.8" fill="#000" stroke="#000" stroke-width="0.2" textLength="59.47" lengthAdjust="spacing">15 µg/kg n=2</text>
<rect x="411.7" y="286.15" width="4.2" height="3.7" fill="#a3002a"/>
<text x="420.6" y="291" font-size="9.8" fill="#000" stroke="#000" stroke-width="0.2" textLength="59.47" lengthAdjust="spacing">30 µg/kg n=3</text>
<rect x="411.7" y="301.3" width="4.2" height="3.7" fill="#55a02a"/>
<text x="420.6" y="306.15" font-size="9.8" fill="#000" stroke="#000" stroke-width="0.2" textLength="59.47" lengthAdjust="spacing">60 µg/kg n=2</text>
<rect x="411.7" y="316.45" width="4.2" height="3.7" fill="#464c5f"/>
<text x="420.6" y="321.3" font-size="9.8" fill="#000" stroke="#000" stroke-width="0.2" textLength="59.47" lengthAdjust="spacing">90 µg/kg n=2</text>
<rect x="411.7" y="331.6" width="4.2" height="3.7" fill="#db8910"/>
<text x="420.6" y="336.45" font-size="9.8" fill="#000" stroke="#000" stroke-width="0.2" textLength="70.81" lengthAdjust="spacing">120 µg/kg n=25</text>
<rect x="411.7" y="346.75" width="4.2" height="3.7" fill="#481c5b"/>
<text x="420.6" y="351.6" font-size="9.8" fill="#000" stroke="#000" stroke-width="0.2" textLength="70.81" lengthAdjust="spacing">150 µg/kg n=43</text>
<rect x="411.7" y="361.9" width="4.2" height="3.7" fill="#66a8de"/>
<text x="420.6" y="366.75" font-size="9.8" fill="#000" stroke="#000" stroke-width="0.2" textLength="70.81" lengthAdjust="spacing">200 µg/kg n=23</text>
<text transform="translate(10.9 496.8) scale(0.93 1)" font-size="18.3" font-weight="bold" fill="#000" stroke="#000" stroke-width="0.45">C</text>
<text x="270.5" y="511.45" font-size="13.6" text-anchor="middle" fill="#000" stroke="#000" stroke-width="0.25" textLength="27.8" lengthAdjust="spacingAndGlyphs">MCL</text>
<text transform="translate(21.9 594.3) rotate(-90)" font-size="13.1" text-anchor="middle" fill="#000" textLength="116.6" lengthAdjust="spacingAndGlyphs">Best percent change from</text>
<text transform="translate(37.3 594.4) rotate(-90)" font-size="13.1" text-anchor="middle" fill="#000" textLength="56.8" lengthAdjust="spacingAndGlyphs">baseline (%)</text>
<text x="270.3" y="690.65" font-size="12.9" text-anchor="middle" fill="#000" stroke="#000" stroke-width="0.15" textLength="35.6" lengthAdjust="spacingAndGlyphs">Patients</text>
<rect x="78.6" y="620.25" width="22.4" height="38.68" fill="#2f4c7c"/>
<rect x="108.8" y="612.37" width="22.4" height="7.88" fill="#a30027"/>
<rect x="139" y="619.29" width="22.4" height="0.95" fill="#505666"/>
<rect x="169.2" y="620.25" width="22.4" height="47.75" fill="#505666"/>
<rect x="199.4" y="620.25" width="22.4" height="47.75" fill="#db8b15"/>
<rect x="229.6" y="620.25" width="22.4" height="47.75" fill="#db8b15"/>
<rect x="259.8" y="566.77" width="22.4" height="53.48" fill="#512862"/>
<rect x="290" y="587.78" width="22.4" height="32.47" fill="#512862"/>
<rect x="320.2" y="619.29" width="22.4" height="0.95" fill="#512862"/>
<rect x="350.4" y="620.25" width="22.4" height="1.15" fill="#512862"/>
<rect x="380.6" y="620.25" width="22.4" height="47.75" fill="#512862"/>
<rect x="410.8" y="620.25" width="22.4" height="47.75" fill="#512862"/>
<rect x="441" y="620.25" width="22.4" height="29.61" fill="#6aaade"/>
<rect x="74.1" y="619.65" width="392.9" height="1.2" fill="#000"/>
<rect x="73.4" y="519.85" width="1.7" height="151" fill="#000"/>
<rect x="73.35" y="669.35" width="393.95" height="1.5" fill="#000"/>
<rect x="69.1" y="524.05" width="4.5" height="1.4" fill="#000"/>
<text transform="translate(64.9 528) scale(0.92 1)" font-size="10.3" text-anchor="end" fill="#000" stroke="#000" stroke-width="0.15">200</text>
<rect x="69.1" y="533.6" width="4.5" height="1.4" fill="#000"/>
<text transform="translate(64.9 537.55) scale(0.92 1)" font-size="10.3" text-anchor="end" fill="#000" stroke="#000" stroke-width="0.15">180</text>
<rect x="69.1" y="543.15" width="4.5" height="1.4" fill="#000"/>
<text transform="translate(64.9 547.1) scale(0.92 1)" font-size="10.3" text-anchor="end" fill="#000" stroke="#000" stroke-width="0.15">160</text>
<rect x="69.1" y="552.7" width="4.5" height="1.4" fill="#000"/>
<text transform="translate(64.9 556.65) scale(0.92 1)" font-size="10.3" text-anchor="end" fill="#000" stroke="#000" stroke-width="0.15">140</text>
<rect x="69.1" y="562.25" width="4.5" height="1.4" fill="#000"/>
<text transform="translate(64.9 566.2) scale(0.92 1)" font-size="10.3" text-anchor="end" fill="#000" stroke="#000" stroke-width="0.15">120</text>
<rect x="69.1" y="571.8" width="4.5" height="1.4" fill="#000"/>
<text transform="translate(64.9 575.75) scale(0.92 1)" font-size="10.3" text-anchor="end" fill="#000" stroke="#000" stroke-width="0.15">100</text>
<rect x="69.1" y="581.35" width="4.5" height="1.4" fill="#000"/>
<text transform="translate(64.9 585.3) scale(0.92 1)" font-size="10.3" text-anchor="end" fill="#000" stroke="#000" stroke-width="0.15">80</text>
<rect x="69.1" y="590.9" width="4.5" height="1.4" fill="#000"/>
<text transform="translate(64.9 594.85) scale(0.92 1)" font-size="10.3" text-anchor="end" fill="#000" stroke="#000" stroke-width="0.15">60</text>
<rect x="69.1" y="600.45" width="4.5" height="1.4" fill="#000"/>
<text transform="translate(64.9 604.4) scale(0.92 1)" font-size="10.3" text-anchor="end" fill="#000" stroke="#000" stroke-width="0.15">40</text>
<rect x="69.1" y="610" width="4.5" height="1.4" fill="#000"/>
<text transform="translate(64.9 613.95) scale(0.92 1)" font-size="10.3" text-anchor="end" fill="#000" stroke="#000" stroke-width="0.15">20</text>
<rect x="69.1" y="619.55" width="4.5" height="1.4" fill="#000"/>
<text transform="translate(64.9 623.5) scale(0.92 1)" font-size="10.3" text-anchor="end" fill="#000" stroke="#000" stroke-width="0.15">0</text>
<rect x="69.1" y="629.1" width="4.5" height="1.4" fill="#000"/>
<text transform="translate(64.9 633.05) scale(0.92 1)" font-size="10.3" text-anchor="end" fill="#000" stroke="#000" stroke-width="0.15">-20</text>
<rect x="69.1" y="638.65" width="4.5" height="1.4" fill="#000"/>
<text transform="translate(64.9 642.6) scale(0.92 1)" font-size="10.3" text-anchor="end" fill="#000" stroke="#000" stroke-width="0.15">-40</text>
<rect x="69.1" y="648.2" width="4.5" height="1.4" fill="#000"/>
<text transform="translate(64.9 652.15) scale(0.92 1)" font-size="10.3" text-anchor="end" fill="#000" stroke="#000" stroke-width="0.15">-60</text>
<rect x="69.1" y="657.75" width="4.5" height="1.4" fill="#000"/>
<text transform="translate(64.9 661.7) scale(0.92 1)" font-size="10.3" text-anchor="end" fill="#000" stroke="#000" stroke-width="0.15">-80</text>
<rect x="69.1" y="667.3" width="4.5" height="1.4" fill="#000"/>
<text transform="translate(64.9 671.25) scale(0.92 1)" font-size="10.3" text-anchor="end" fill="#000" stroke="#000" stroke-width="0.15">-100</text>
<rect x="88.65" y="670.35" width="1.3" height="4.6" fill="#000"/>
<rect x="118.87" y="670.35" width="1.3" height="4.6" fill="#000"/>
<rect x="149.1" y="670.35" width="1.3" height="4.6" fill="#000"/>
<rect x="179.32" y="670.35" width="1.3" height="4.6" fill="#000"/>
<rect x="209.55" y="670.35" width="1.3" height="4.6" fill="#000"/>
<rect x="239.78" y="670.35" width="1.3" height="4.6" fill="#000"/>
<rect x="270" y="670.35" width="1.3" height="4.6" fill="#000"/>
<rect x="300.23" y="670.35" width="1.3" height="4.6" fill="#000"/>
<rect x="330.45" y="670.35" width="1.3" height="4.6" fill="#000"/>
<rect x="360.68" y="670.35" width="1.3" height="4.6" fill="#000"/>
<rect x="390.9" y="670.35" width="1.3" height="4.6" fill="#000"/>
<rect x="421.12" y="670.35" width="1.3" height="4.6" fill="#000"/>
<rect x="451.35" y="670.35" width="1.3" height="4.6" fill="#000"/>
<text x="412" y="514.25" font-size="10" fill="#000" stroke="#000" stroke-width="0.2" textLength="91.59" lengthAdjust="spacing">Total Patients (N=13)</text>
<rect x="411.7" y="524.75" width="4.2" height="3.7" fill="#22407a"/>
<text x="420.6" y="529.6" font-size="9.8" fill="#000" stroke="#000" stroke-width="0.2" textLength="59.47" lengthAdjust="spacing">15 µg/kg n=1</text>
<rect x="411.7" y="540.15" width="4.2" height="3.7" fill="#a3002a"/>
<text x="420.6" y="545" font-size="9.8" fill="#000" stroke="#000" stroke-width="0.2" textLength="59.47" lengthAdjust="spacing">30 µg/kg n=1</text>
<rect x="411.7" y="555.55" width="4.2" height="3.7" fill="#464c5f"/>
<text x="420.6" y="560.4" font-size="9.8" fill="#000" stroke="#000" stroke-width="0.2" textLength="59.47" lengthAdjust="spacing">90 µg/kg n=2</text>
<rect x="411.7" y="570.95" width="4.2" height="3.7" fill="#db8910"/>
<text x="420.6" y="575.8" font-size="9.8" fill="#000" stroke="#000" stroke-width="0.2" textLength="65.14" lengthAdjust="spacing">120 µg/kg n=2</text>
<rect x="411.7" y="586.35" width="4.2" height="3.7" fill="#481c5b"/>
<text x="420.6" y="591.2" font-size="9.8" fill="#000" stroke="#000" stroke-width="0.2" textLength="65.14" lengthAdjust="spacing">150 µg/kg n=6</text>
<rect x="411.7" y="601.75" width="4.2" height="3.7" fill="#66a8de"/>
<text x="420.6" y="606.6" font-size="9.8" fill="#000" stroke="#000" stroke-width="0.2" textLength="65.14" lengthAdjust="spacing">200 µg/kg n=1</text>
<text transform="translate(11.6 731.8) scale(0.98 1)" font-size="18.3" font-weight="bold" fill="#000" stroke="#000" stroke-width="0.45">D</text>
<text x="270.5" y="746.95" font-size="13.6" text-anchor="middle" fill="#000" stroke="#000" stroke-width="0.25" textLength="14.6" lengthAdjust="spacingAndGlyphs">FL</text>
<text transform="translate(21.9 830.2) rotate(-90)" font-size="13.1" text-anchor="middle" fill="#000" textLength="116.6" lengthAdjust="spacingAndGlyphs">Best percent change from</text>
<text transform="translate(37.3 830.3) rotate(-90)" font-size="13.1" text-anchor="middle" fill="#000" textLength="56.8" lengthAdjust="spacingAndGlyphs">baseline (%)</text>
<text x="270.3" y="926.15" font-size="12.9" text-anchor="middle" fill="#000" stroke="#000" stroke-width="0.15" textLength="35.6" lengthAdjust="spacingAndGlyphs">Patients</text>
<rect x="78.9" y="855.75" width="22.2" height="9.07" fill="#db8b15"/>
<rect x="115.12" y="855.75" width="22.2" height="43.45" fill="#db8b15"/>
<rect x="151.34" y="855.75" width="22.2" height="46.32" fill="#db8b15"/>
<rect x="187.56" y="855.75" width="22.2" height="47.27" fill="#db8b15"/>
<rect x="223.78" y="855.75" width="22.2" height="25.31" fill="#512862"/>
<rect x="260" y="855.75" width="22.2" height="32.47" fill="#512862"/>
<rect x="296.22" y="855.75" width="22.2" height="47.03" fill="#512862"/>
<rect x="332.44" y="855.75" width="22.2" height="47.03" fill="#512862"/>
<rect x="368.66" y="855.75" width="22.2" height="47.03" fill="#512862"/>
<rect x="404.88" y="855.75" width="22.2" height="28.65" fill="#6aaade"/>
<rect x="441.1" y="855.75" width="22.2" height="47.27" fill="#6aaade"/>
<rect x="74.1" y="855.15" width="392.9" height="1.2" fill="#000"/>
<rect x="73.4" y="755.35" width="1.7" height="151" fill="#000"/>
<rect x="73.35" y="904.85" width="393.95" height="1.5" fill="#000"/>
<rect x="69.1" y="759.55" width="4.5" height="1.4" fill="#000"/>
<text transform="translate(64.9 763.5) scale(0.92 1)" font-size="10.3" text-anchor="end" fill="#000" stroke="#000" stroke-width="0.15">200</text>
<rect x="69.1" y="769.1" width="4.5" height="1.4" fill="#000"/>
<text transform="translate(64.9 773.05) scale(0.92 1)" font-size="10.3" text-anchor="end" fill="#000" stroke="#000" stroke-width="0.15">180</text>
<rect x="69.1" y="778.65" width="4.5" height="1.4" fill="#000"/>
<text transform="translate(64.9 782.6) scale(0.92 1)" font-size="10.3" text-anchor="end" fill="#000" stroke="#000" stroke-width="0.15">160</text>
<rect x="69.1" y="788.2" width="4.5" height="1.4" fill="#000"/>
<text transform="translate(64.9 792.15) scale(0.92 1)" font-size="10.3" text-anchor="end" fill="#000" stroke="#000" stroke-width="0.15">140</text>
<rect x="69.1" y="797.75" width="4.5" height="1.4" fill="#000"/>
<text transform="translate(64.9 801.7) scale(0.92 1)" font-size="10.3" text-anchor="end" fill="#000" stroke="#000" stroke-width="0.15">120</text>
<rect x="69.1" y="807.3" width="4.5" height="1.4" fill="#000"/>
<text transform="translate(64.9 811.25) scale(0.92 1)" font-size="10.3" text-anchor="end" fill="#000" stroke="#000" stroke-width="0.15">100</text>
<rect x="69.1" y="816.85" width="4.5" height="1.4" fill="#000"/>
<text transform="translate(64.9 820.8) scale(0.92 1)" font-size="10.3" text-anchor="end" fill="#000" stroke="#000" stroke-width="0.15">80</text>
<rect x="69.1" y="826.4" width="4.5" height="1.4" fill="#000"/>
<text transform="translate(64.9 830.35) scale(0.92 1)" font-size="10.3" text-anchor="end" fill="#000" stroke="#000" stroke-width="0.15">60</text>
<rect x="69.1" y="835.95" width="4.5" height="1.4" fill="#000"/>
<text transform="translate(64.9 839.9) scale(0.92 1)" font-size="10.3" text-anchor="end" fill="#000" stroke="#000" stroke-width="0.15">40</text>
<rect x="69.1" y="845.5" width="4.5" height="1.4" fill="#000"/>
<text transform="translate(64.9 849.45) scale(0.92 1)" font-size="10.3" text-anchor="end" fill="#000" stroke="#000" stroke-width="0.15">20</text>
<rect x="69.1" y="855.05" width="4.5" height="1.4" fill="#000"/>
<text transform="translate(64.9 859) scale(0.92 1)" font-size="10.3" text-anchor="end" fill="#000" stroke="#000" stroke-width="0.15">0</text>
<rect x="69.1" y="864.6" width="4.5" height="1.4" fill="#000"/>
<text transform="translate(64.9 868.55) scale(0.92 1)" font-size="10.3" text-anchor="end" fill="#000" stroke="#000" stroke-width="0.15">-20</text>
<rect x="69.1" y="874.15" width="4.5" height="1.4" fill="#000"/>
<text transform="translate(64.9 878.1) scale(0.92 1)" font-size="10.3" text-anchor="end" fill="#000" stroke="#000" stroke-width="0.15">-40</text>
<rect x="69.1" y="883.7" width="4.5" height="1.4" fill="#000"/>
<text transform="translate(64.9 887.65) scale(0.92 1)" font-size="10.3" text-anchor="end" fill="#000" stroke="#000" stroke-width="0.15">-60</text>
<rect x="69.1" y="893.25" width="4.5" height="1.4" fill="#000"/>
<text transform="translate(64.9 897.2) scale(0.92 1)" font-size="10.3" text-anchor="end" fill="#000" stroke="#000" stroke-width="0.15">-80</text>
<rect x="69.1" y="902.8" width="4.5" height="1.4" fill="#000"/>
<text transform="translate(64.9 906.75) scale(0.92 1)" font-size="10.3" text-anchor="end" fill="#000" stroke="#000" stroke-width="0.15">-100</text>
<rect x="88.55" y="905.85" width="1.3" height="4.6" fill="#000"/>
<rect x="124.85" y="905.85" width="1.3" height="4.6" fill="#000"/>
<rect x="161.15" y="905.85" width="1.3" height="4.6" fill="#000"/>
<rect x="197.45" y="905.85" width="1.3" height="4.6" fill="#000"/>
<rect x="233.75" y="905.85" width="1.3" height="4.6" fill="#000"/>
<rect x="270.05" y="905.85" width="1.3" height="4.6" fill="#000"/>
<rect x="306.35" y="905.85" width="1.3" height="4.6" fill="#000"/>
<rect x="342.65" y="905.85" width="1.3" height="4.6" fill="#000"/>
<rect x="378.95" y="905.85" width="1.3" height="4.6" fill="#000"/>
<rect x="415.25" y="905.85" width="1.3" height="4.6" fill="#000"/>
<rect x="451.55" y="905.85" width="1.3" height="4.6" fill="#000"/>
<text x="412" y="774.95" font-size="10" fill="#000" stroke="#000" stroke-width="0.2" textLength="90.87" lengthAdjust="spacing">Total Patients (N=11)</text>
<rect x="411.7" y="785.55" width="4.2" height="3.7" fill="#db8910"/>
<text x="420.6" y="790.4" font-size="9.8" fill="#000" stroke="#000" stroke-width="0.2" textLength="65.14" lengthAdjust="spacing">120 µg/kg n=4</text>
<rect x="411.7" y="801.05" width="4.2" height="3.7" fill="#481c5b"/>
<text x="420.6" y="805.9" font-size="9.8" fill="#000" stroke="#000" stroke-width="0.2" textLength="65.14" lengthAdjust="spacing">150 µg/kg n=5</text>
<rect x="411.7" y="816.55" width="4.2" height="3.7" fill="#66a8de"/>
<text x="420.6" y="821.4" font-size="9.8" fill="#000" stroke="#000" stroke-width="0.2" textLength="65.14" lengthAdjust="spacing">200 µg/kg n=2</text>
<rect x="0" y="0" width="520" height="1.6" fill="#000"/>
<rect x="0" y="0" width="1.8" height="940" fill="#000"/>
<rect x="518.0" y="0" width="2" height="940" fill="#000"/>
<rect x="0" y="937.9" width="520" height="2.1" fill="#000"/>
</svg>
</body></html>
